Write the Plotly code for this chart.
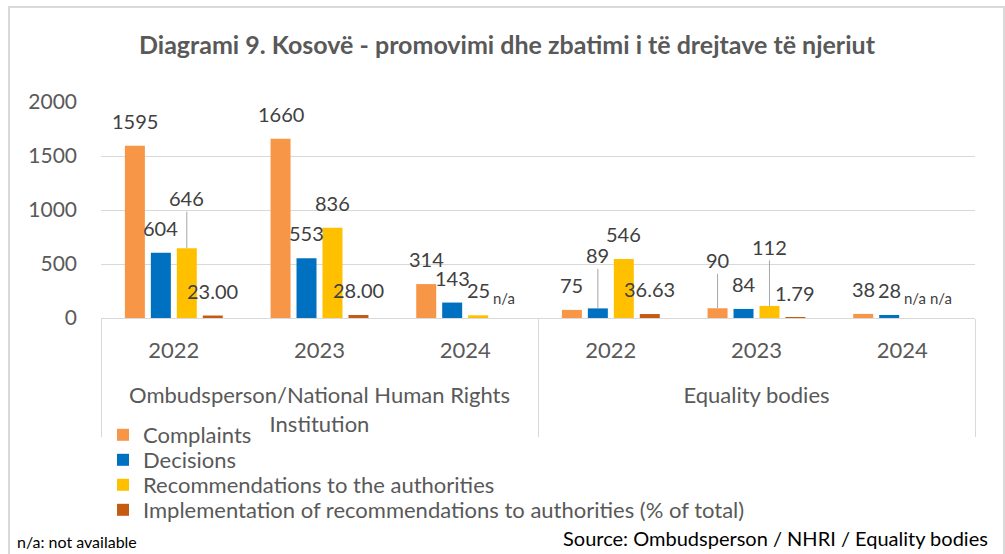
import plotly.graph_objects as go

# ---- data ----
groups = ["Ombudsperson/National Human Rights<br>Institution"] * 3 + ["Equality bodies"] * 3
years = ["2022", "2023", "2024", "2022", "2023", "2024"]
series_names = [
    "Complaints",
    "Decisions",
    "Recommendations to the authorities",
    "Implementation of recommendations to authorities (% of total)",
]
complaints = [1595, 1660, 314, 75, 90, 38]
decisions = [604, 553, 143, 89, 84, 28]
recommendations = [646, 836, 25, 546, 112, None]
implementation = [23.00, 28.00, None, 36.63, 1.79, None]
series_values = [complaints, decisions, recommendations, implementation]
label_formats = ["{:.0f}", "{:.0f}", "{:.0f}", "{:.2f}"]

# ---- style ----
colors = ["#F79646", "#0070C0", "#FFC000", "#C55A11"]
FONT = "Lato"
W, H = 1005, 554
ML, MR, MT, MB = 101, 30, 102, 236
PW = W - ML - MR
PH = H - MT - MB
bargap = 0.287
bargroupgap = 0.23
n_series = len(series_values)
slot = (1 - bargap) / n_series
legend_rows_px = [435, 460, 485, 510]

# labels that use a leader line: (series index, category index) -> pixel offset
leader = {(2, 0): -50, (1, 3): -53, (0, 4): -48, (2, 4): -59}


def px_x(p):
    return (p - ML) / PW


def px_y(p):
    return (H - MB - p) / PH


legend_ids = ["legend", "legend2", "legend3", "legend4"]

fig = go.Figure()
for i, (name, vals) in enumerate(zip(series_names, series_values)):
    fig.add_trace(go.Bar(
        x=[groups, [y + "<br> " for y in years]], y=vals, name=name,
        marker=dict(color=colors[i], line=dict(width=0)),
        legend=legend_ids[i], showlegend=True,
    ))

annotations = []
for i, vals in enumerate(series_values):
    off = (i - (n_series - 1) / 2) * slot
    for j, v in enumerate(vals):
        xpos = j + off
        if v is None:
            annotations.append(dict(
                x=xpos, y=0, xref="x", yref="y", text="n/a", showarrow=False,
                yshift=20, font=dict(family=FONT, size=15, color="#404040"),
            ))
            continue
        txt = label_formats[i].format(v)
        if (i, j) in leader:
            annotations.append(dict(
                x=xpos, y=v, xref="x", yref="y", text=txt, showarrow=True,
                arrowhead=0, arrowwidth=1, arrowcolor="#A6A6A6", ax=0, ay=leader[(i, j)],
                standoff=0, font=dict(family=FONT, size=20, color="#404040"),
            ))
        else:
            annotations.append(dict(
                x=xpos, y=v, xref="x", yref="y", text=txt, showarrow=False,
                yshift=25, font=dict(family=FONT, size=20, color="#404040"),
            ))

annotations.append(dict(
    x=px_x(15), y=px_y(541), xref="paper", yref="paper", xanchor="left", yanchor="middle",
    text="n/a: not available", showarrow=False, font=dict(family=FONT, size=16, color="#000000"),
))
annotations.append(dict(
    x=px_x(990), y=px_y(538), xref="paper", yref="paper", xanchor="right", yanchor="middle",
    text="Source: Ombudsperson / NHRI / Equality bodies", showarrow=False,
    font=dict(family=FONT, size=20, color="#000000"),
))

legends = {}
for k, lid in enumerate(legend_ids):
    legends[lid] = dict(
        orientation="v", x=px_x(103), xanchor="left", y=px_y(legend_rows_px[k]), yanchor="middle",
        font=dict(family=FONT, size=22, color="#595959"), bgcolor="rgba(0,0,0,0)",
        visible=True,
    )

fig.update_layout(
    width=W, height=H,
    margin=dict(l=ML, r=MR, t=MT, b=MB, autoexpand=False),
    paper_bgcolor="white", plot_bgcolor="white",
    showlegend=True,
    barmode="group", bargap=bargap, bargroupgap=bargroupgap,
    font=dict(family=FONT, color="#595959"),
    title=dict(
        text="<b>Diagrami 9. Kosovë - promovimi dhe zbatimi i të drejtave të njeriut</b>",
        x=507 / W, xanchor="center", y=1 - 45 / H, yanchor="middle",
        xref="container", yref="container",
        font=dict(family=FONT, size=25, color="#595959"),
    ),
    xaxis=dict(
        type="multicategory", showgrid=False, showline=True, linecolor="#D9D9D9", linewidth=1,
        dividercolor="#D9D9D9", dividerwidth=1, ticks="", automargin=False,
        ticklabelstandoff=13,
        tickfont=dict(family=FONT, size=22, color="#595959"),
    ),
    yaxis=dict(
        range=[0, 2000], dtick=500, showgrid=True, gridcolor="#D9D9D9", gridwidth=1,
        zeroline=False, showline=False, ticklabelstandoff=23, automargin=False,
        tickfont=dict(family=FONT, size=21, color="#595959"),
    ),
    annotations=annotations,
    shapes=[dict(
        type="rect", xref="paper", yref="paper",
        x0=px_x(9), x1=px_x(1004), y0=px_y(570), y1=px_y(7),
        line=dict(color="#D9D9D9", width=2), fillcolor="rgba(0,0,0,0)", layer="below",
    )],
    **legends,
)

fig.write_html(
    "out.html",
    config={"displayModeBar": False},
    post_script="document.body.style.margin='0px';document.body.style.overflow='hidden';",
)
